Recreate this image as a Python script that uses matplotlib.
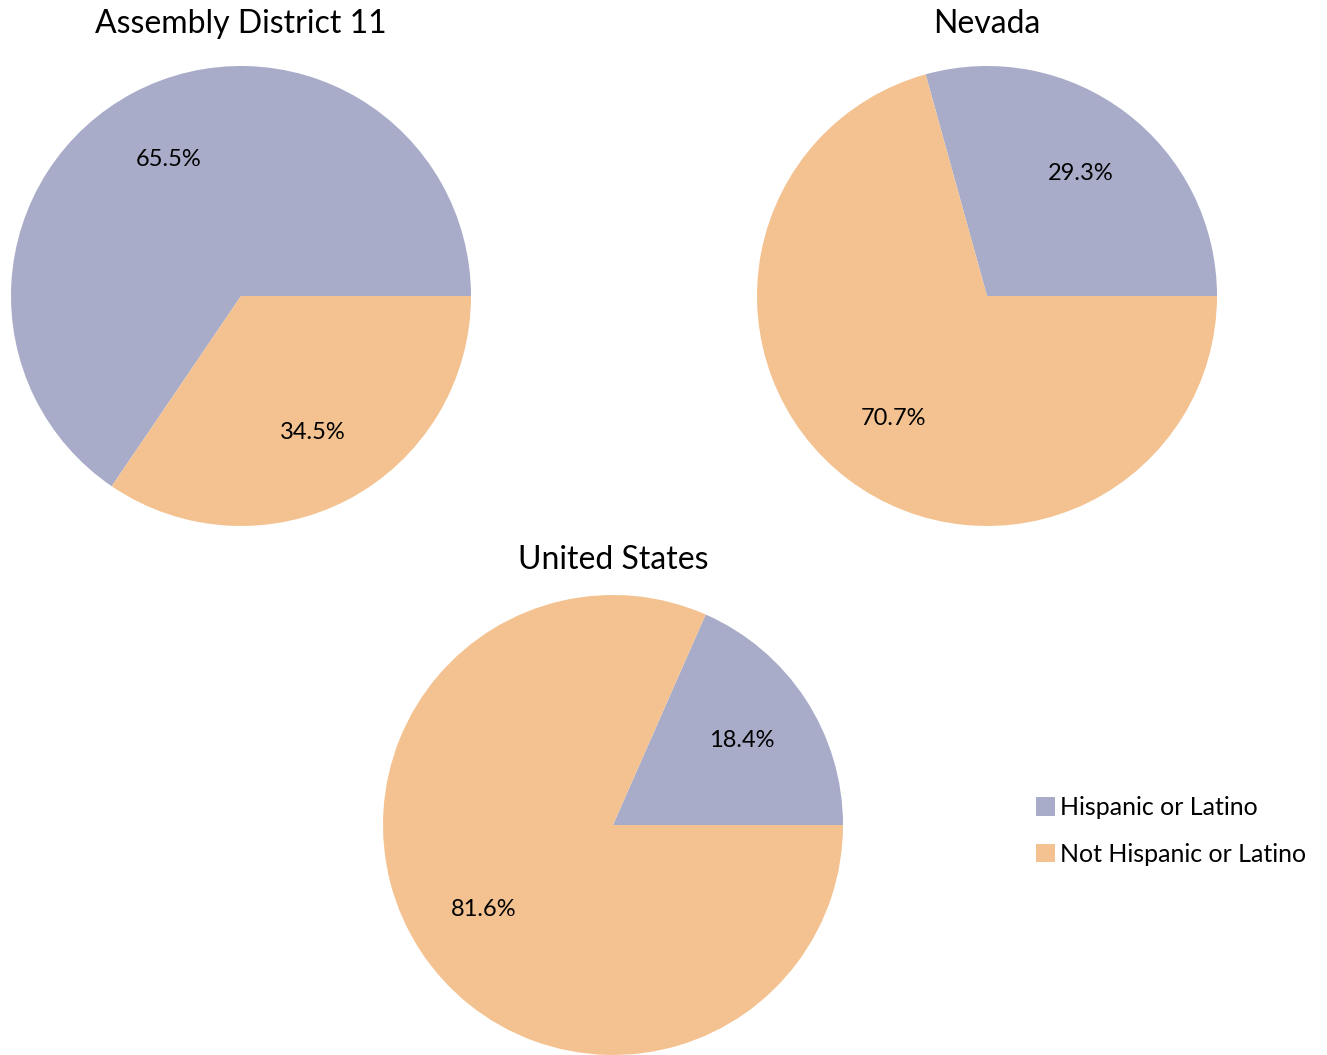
import matplotlib.pyplot as plt
from matplotlib.patches import Patch

plt.rcParams['font.family'] = ['Lato', 'DejaVu Sans']

labels = ["Hispanic or Latino", "Not Hispanic or Latino"]
colors = ["#A8ACC9", "#F4C290"]
titles = ["Assembly District 11", "Nevada", "United States"]
ad11 = [65.5, 34.5]
nevada = [29.3, 70.7]
usa = [18.4, 81.6]

W, H = 1327, 1055
fig = plt.figure(figsize=(W / 100, H / 100), dpi=100)

# pie centres in pixels, radius 230
centres = [(241, 296), (987, 296), (613, 825)]
title_y = [24, 24, 560]
r = 230
for (cx, cy), vals, title, ty in zip(centres, [ad11, nevada, usa], titles, title_y):
    ax = fig.add_axes([(cx - r) / W, 1 - (cy + r) / H, 2 * r / W, 2 * r / H])
    ax.pie(vals, colors=colors, startangle=0, counterclock=True,
           autopct='%.1f%%', pctdistance=0.67, radius=1,
           textprops={'fontsize': 17, 'color': 'black'})
    ax.set_xlim(-1, 1)
    ax.set_ylim(-1, 1)
    ax.axis('off')
    fig.text(cx / W, 1 - ty / H, title, ha='center', va='center', fontsize=23)

handles = [Patch(facecolor=c, edgecolor='none') for c in colors]
fig.legend(handles, labels, loc='center left', bbox_to_anchor=(1026 / W, 1 - 831 / H),
           frameon=False, fontsize=18, handlelength=0.75, handleheight=0.75,
           handletextpad=0.2, labelspacing=0.95, borderaxespad=0)

fig.savefig("out.png", dpi=100)
